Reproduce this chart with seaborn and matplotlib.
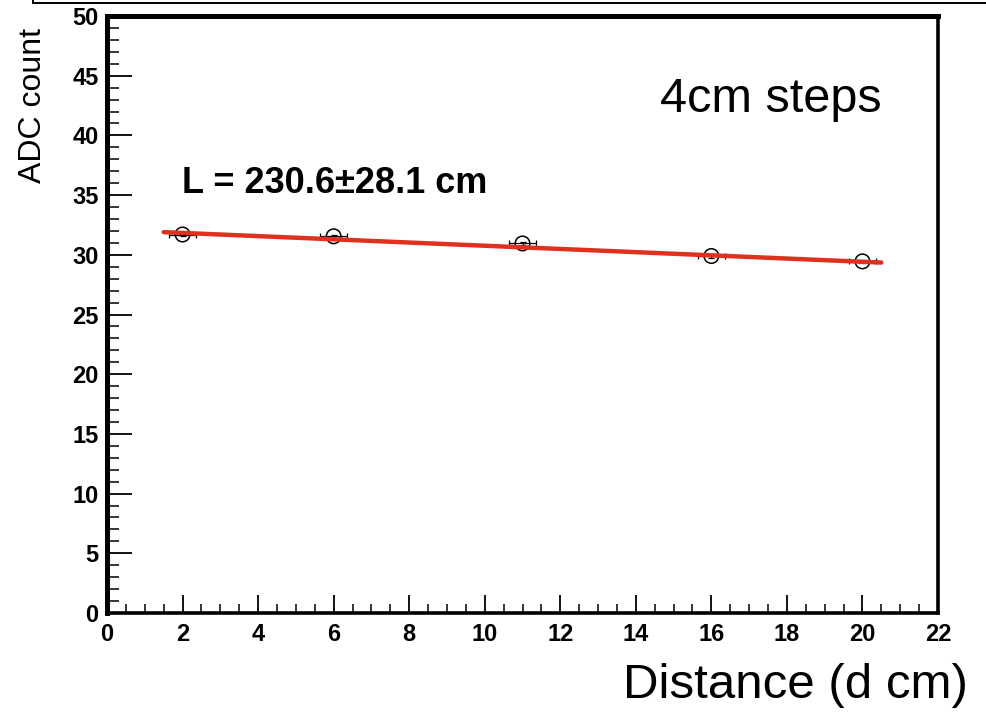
import matplotlib
matplotlib.use("Agg")
import matplotlib.pyplot as plt
from matplotlib.lines import Line2D
from matplotlib.ticker import MultipleLocator
import seaborn as sns
import pandas as pd

# ---- data ----
distance = [2, 6, 11, 16, 20]
adc = [31.7, 31.55, 30.95, 29.9, 29.45]
dist_err = [0.35, 0.35, 0.35, 0.35, 0.35]
adc_err = [0.15, 0.15, 0.15, 0.15, 0.15]
fit_x = [1.5, 20.5]
fit_y = [31.9, 29.35]
x_ticks = [0, 2, 4, 6, 8, 10, 12, 14, 16, 18, 20, 22]
y_ticks = [0, 5, 10, 15, 20, 25, 30, 35, 40, 45, 50]
fit_label = "L = 230.6\u00b128.1 cm"
note_label = "4cm steps"

sns.set_theme(style="white")
plt.rcParams['font.family'] = ['Liberation Sans', 'DejaVu Sans']
plt.rcParams['text.color'] = 'black'
plt.rcParams['axes.labelcolor'] = 'black'
plt.rcParams['xtick.color'] = 'black'
plt.rcParams['ytick.color'] = 'black'

W, H = 987, 716
fig = plt.figure(figsize=(W / 100, H / 100), dpi=100)
ax = fig.add_axes([107 / W, 1 - 613 / H, (938 - 107) / W, (613 - 16) / H])

df = pd.DataFrame({"d": distance, "adc": adc})
fit_df = pd.DataFrame({"d": fit_x, "adc": fit_y})

ax.errorbar(distance, adc, xerr=dist_err, yerr=adc_err, fmt='none',
            ecolor='black', elinewidth=0.9, capsize=2.5, capthick=0.9, zorder=3)
sns.scatterplot(data=df, x="d", y="adc", ax=ax, marker='o', s=110,
                facecolor='none', edgecolor='black', linewidth=1.1, zorder=4)
sns.lineplot(data=fit_df, x="d", y="adc", ax=ax, color='#e0301e',
             linewidth=3.2, zorder=5)

ax.set_xlim(0, 22)
ax.set_ylim(0, 50)
ax.set_xticks(x_ticks)
ax.set_yticks(y_ticks)
ax.set_xticklabels([str(t) for t in x_ticks])
ax.set_yticklabels([str(t) for t in y_ticks])
ax.xaxis.set_minor_locator(MultipleLocator(0.5))
ax.yaxis.set_minor_locator(MultipleLocator(1))

ax.tick_params(axis='x', which='major', direction='in', length=13, width=1.3,
               labelsize=17, pad=7, bottom=True, top=False, colors='black')
ax.tick_params(axis='x', which='minor', direction='in', length=6.5, width=1.1,
               bottom=True, top=False, colors='black')
ax.tick_params(axis='y', which='major', direction='in', length=18, width=1.3,
               labelsize=17, pad=6, left=True, right=False, colors='black')
ax.tick_params(axis='y', which='minor', direction='in', length=8.5, width=1.1,
               left=True, right=False, colors='black')
for lab in ax.get_xticklabels() + ax.get_yticklabels():
    lab.set_fontweight('bold')

for side in ['top', 'left']:
    ax.spines[side].set_linewidth(3.6)
    ax.spines[side].set_color('black')
    ax.spines[side].set_visible(True)
for side in ['right', 'bottom']:
    ax.spines[side].set_linewidth(2.6)
    ax.spines[side].set_color('black')
    ax.spines[side].set_visible(True)

ax.set_ylabel("ADC count", fontsize=23, color='black')
ax.yaxis.label.set(ha='center', va='top', rotation_mode='default')
ax.yaxis.set_label_coords((33 - 107) / 831, (613 - 28) / 597)

ax.set_xlabel("Distance (d cm)", fontsize=35.5, color='black')
ax.xaxis.label.set(ha='right', va='center')
ax.xaxis.set_label_coords((968 - 107) / 831, (613 - 686) / 597)

ax.text((660 - 107) / 831, (613 - 112) / 597, note_label, transform=ax.transAxes,
        fontsize=35, ha='left', va='baseline', color='black')
ax.text((182 - 107) / 831, (613 - 193) / 597, fit_label, transform=ax.transAxes,
        fontsize=26, fontweight='bold', ha='left', va='baseline', color='black')

# frame remnant at the top of the picture
fig.add_artist(Line2D([33 / W, 1.0], [1 - 2.5 / H, 1 - 2.5 / H],
                      transform=fig.transFigure, color='black', linewidth=1.4))
fig.add_artist(Line2D([33 / W, 33 / W], [1.0, 1 - 3 / H],
                      transform=fig.transFigure, color='black', linewidth=1.4))

fig.savefig("out.png", dpi=100)
